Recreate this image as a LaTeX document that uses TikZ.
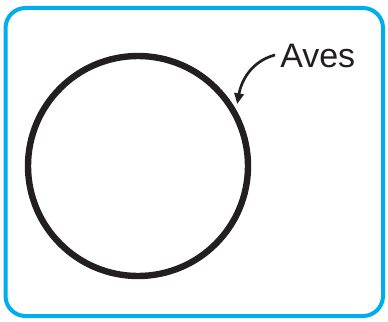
\documentclass[tikz,border=0pt]{standalone}
\usepackage{fontspec}
\setmainfont{Liberation Sans}
\usetikzlibrary{arrows.meta,calc,positioning}
\definecolor{cianobordo}{HTML}{00AEEF}
\definecolor{nerotratto}{HTML}{231F20}

\begin{document}
\begin{tikzpicture}[x=0.75pt, y=-0.75pt,
  cornice/.style={draw=cianobordo, line width=3pt, rounded corners=15pt},
  insieme/.style={circle, draw=nerotratto, line width=4.8pt, minimum size=165pt, inner sep=0pt},
  etichetta/.style={font=\fontsize{25.5}{30}\selectfont, text=nerotratto, inner sep=0pt}]
% --- diagramma di Venn: insieme Aves ---
\useasboundingbox (0,0) rectangle (388,321);
\draw[cornice] (5.5,8) rectangle (383,316);
\node[insieme] (aves set) at (138,166) {};
\node[etichetta, anchor=west] (aves) at (280,56) {Aves};
\coordinate (punta) at ($(aves set.center)+(328:117)$);
\draw[-{Triangle[length=8pt,width=7pt]}, line width=2pt, nerotratto]
  ($(aves.west)+(-5,-1)$) to[out=195, in=80] (punta);
\end{tikzpicture}
\end{document}
